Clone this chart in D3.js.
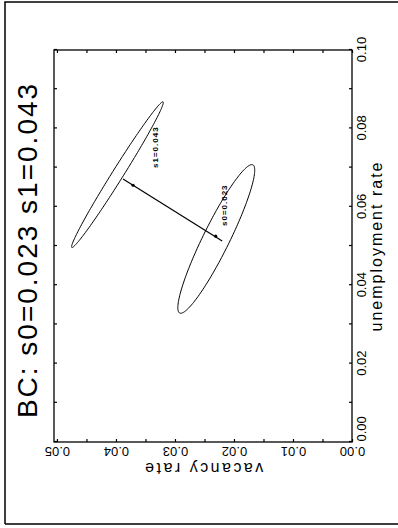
<!DOCTYPE html>
<html>
<head>
<meta charset="utf-8">
<script src="https://cdn.jsdelivr.net/npm/d3@7"></script>
<style>
  body { margin: 0; background: #fff; }
  svg { display: block; font-family: "Liberation Sans", Arial, sans-serif; }
</style>
</head>
<body>
<svg id="chart"></svg>
<script>
// axis ticks (unemployment rate u, vacancy rate v)
const uTicks = [0, 0.01, 0.02, 0.03, 0.04, 0.05, 0.06, 0.07, 0.08, 0.09, 0.10];
const uLabels = [0, 0.02, 0.04, 0.06, 0.08, 0.10];
const vTicks = [0, 0.005, 0.01, 0.015, 0.02, 0.025, 0.03, 0.035, 0.04, 0.045, 0.05];
const vLabels = [0, 0.01, 0.02, 0.03, 0.04, 0.05];

// the two ellipses: ends of the long axis and one end of the short axis, as [u, v]
const ellipseNames = ['s1=0.043', 's0=0.023'];
const majorA = [[0.0867, 0.0322], [0.0707, 0.0168]];
const majorB = [[0.0497, 0.0473], [0.0329, 0.0292]];
const minorEnd = [[0.0700, 0.0379], [0.0503, 0.0210]];
const labelAt = [[0.0699, 0.0329], [0.0551, 0.0212]];

// segment joining the two regions and where it meets them
const link = [[0.0671, 0.0388], [0.0513, 0.0220]];
const linkHits = [[0.0655, 0.0371], [0.0525, 0.0231]];

const width = 398, height = 528;
const W = 392, H = 298;   // plot drawn unrotated, then turned a quarter left

const svg = d3.select('#chart')
  .attr('width', width)
  .attr('height', height);

// outer frame of the page
svg.append('path')
  .attr('d', 'M5,524 L5,2 L398,2 M5,524 L398,524')
  .attr('fill', 'none')
  .attr('stroke', '#000')
  .attr('stroke-width', 1.5);

const g = svg.append('g')
  .attr('transform', 'translate(54,442) rotate(-90)');

const x = d3.scaleLinear().domain([0, 0.10]).range([0, W]);
const y = d3.scaleLinear().domain([0, 0.0505]).range([H, 0]);

const f2 = d3.format('.2f');
const isIn = (arr, d) => arr.some(v => Math.abs(v - d) < 1e-9);

g.append('rect')
  .attr('width', W)
  .attr('height', H)
  .attr('fill', 'none')
  .attr('stroke', '#000')
  .attr('stroke-width', 1.3);

// unemployment axis
const xAxis = g.append('g')
  .attr('transform', `translate(0,${H})`)
  .call(d3.axisBottom(x).tickValues(uTicks).tickSize(-3).tickPadding(5)
    .tickFormat(d => isIn(uLabels, d) ? f2(d) : ''));
xAxis.select('.domain').remove();
xAxis.selectAll('text')
  .attr('font-size', 13)
  .attr('font-family', null)
  .attr('text-anchor', d => d === 0 ? 'start' : 'middle');

// vacancy axis, labels written along the axis
const yAxis = g.append('g')
  .call(d3.axisLeft(y).tickValues(vTicks).tickSize(-3)
    .tickFormat(d => isIn(vLabels, d) ? f2(d) : ''));
yAxis.select('.domain').remove();
yAxis.selectAll('text')
  .attr('font-size', 13)
  .attr('font-family', null)
  .attr('x', 0)
  .attr('dy', 0)
  .attr('text-anchor', 'middle')
  .attr('transform', 'translate(-5,0) rotate(-90)');

// mirrored ticks on the other two sides
g.append('g')
  .call(d3.axisTop(x).tickValues(uTicks).tickSize(-3).tickFormat(''))
  .select('.domain').remove();
g.append('g')
  .attr('transform', `translate(${W},0)`)
  .call(d3.axisRight(y).tickValues(vTicks).tickSize(-3).tickFormat(''))
  .select('.domain').remove();
g.selectAll('.tick line').attr('stroke-width', 1.2);

// titles
g.append('text')
  .attr('x', W / 2 - 4)
  .attr('y', -17)
  .attr('text-anchor', 'middle')
  .attr('font-size', 28)
  .attr('letter-spacing', 2)
  .text('BC:  s0=0.023  s1=0.043');

g.append('text')
  .attr('x', W / 2)
  .attr('y', H + 30)
  .attr('text-anchor', 'middle')
  .attr('font-size', 16)
  .attr('letter-spacing', 2)
  .text('unemployment rate');

g.append('text')
  .attr('transform', `translate(-21,${H / 2}) rotate(-90)`)
  .attr('text-anchor', 'middle')
  .attr('font-size', 16)
  .attr('letter-spacing', 2.5)
  .text('vacancy rate');

// ellipses
const line = d3.line().curve(d3.curveLinearClosed);
const steps = d3.range(0, 2 * Math.PI, Math.PI / 90);
ellipseNames.forEach((name, i) => {
  const ax = x(majorA[i][0]), ay = y(majorA[i][1]);
  const bx = x(majorB[i][0]), by = y(majorB[i][1]);
  const cx = (ax + bx) / 2, cy = (ay + by) / 2;
  const mx = x(minorEnd[i][0]) - cx, my = y(minorEnd[i][1]) - cy;
  const pts = steps.map(t => [
    cx + Math.cos(t) * (ax - cx) + Math.sin(t) * mx,
    cy + Math.cos(t) * (ay - cy) + Math.sin(t) * my
  ]);
  g.append('path')
    .attr('d', line(pts))
    .attr('fill', 'none')
    .attr('stroke', '#000')
    .attr('stroke-width', 1);

  g.append('text')
    .attr('x', x(labelAt[i][0]))
    .attr('y', y(labelAt[i][1]))
    .attr('font-size', 8)
    .attr('font-weight', 'bold')
    .attr('letter-spacing', 1)
    .text(name);
});

g.append('line')
  .attr('x1', x(link[0][0])).attr('y1', y(link[0][1]))
  .attr('x2', x(link[1][0])).attr('y2', y(link[1][1]))
  .attr('stroke', '#000')
  .attr('stroke-width', 1.2);

g.selectAll('.hit')
  .data(linkHits)
  .enter()
  .append('circle')
  .attr('cx', d => x(d[0]))
  .attr('cy', d => y(d[1]))
  .attr('r', 1.6)
  .attr('fill', '#000');
</script>
</body>
</html>
